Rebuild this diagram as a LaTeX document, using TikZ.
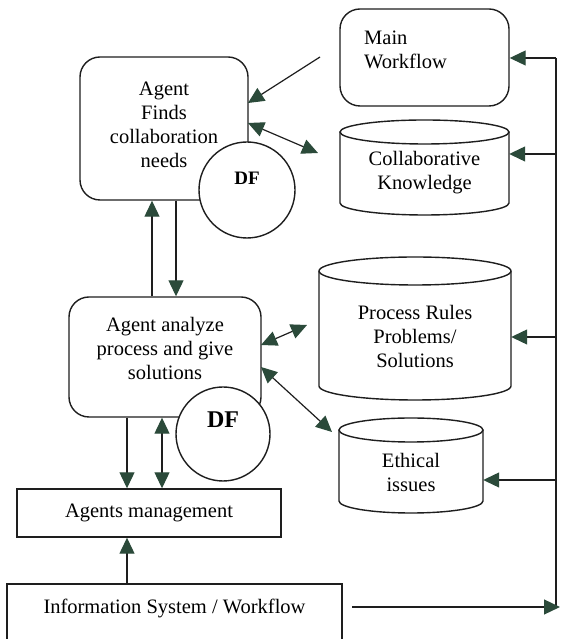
\documentclass[tikz,border=0pt]{standalone}
\usepackage{fontspec}
\setmainfont{Liberation Serif}
\usetikzlibrary{arrows.meta}
\definecolor{arrowgreen}{HTML}{2B4A3A}
\definecolor{linegray}{HTML}{1E1E1E}
\begin{document}
\begin{tikzpicture}[x=1pt,y=1pt,
  box/.style={draw=linegray, line width=1.4pt, rounded corners=20pt, inner sep=0pt},
  sq/.style={draw=linegray, line width=1.4pt, inner sep=0pt},
  df/.style={draw=linegray, circle, line width=1.4pt, fill=white, inner sep=0pt},
  txt/.style={align=center, inner sep=0pt, font=\rmfamily\fontsize{20.5}{24}\selectfont},
  tip/.tip={Triangle[length=16pt,width=15pt,color=arrowgreen]},
  arr/.style={draw=linegray, line width=1.2pt, -tip},
  darr/.style={draw=linegray, line width=1.2pt, tip-tip},
  cylline/.style={draw=linegray, line width=1.4pt}]
\clip (0,0) rectangle (560,639);
\fill[white] (0,0) rectangle (560,639);

% Agent finds collaboration needs
\node[box, minimum width=168, minimum height=143] (b1) at (164,510.5) {};
\node[txt] (b1t) at (164,514.5) {Agent\\Finds\\collaboration\\needs};
\node[df, minimum size=96] (df1) at (247,449) {};
\node[txt, font=\rmfamily\fontsize{19}{22}\selectfont\bfseries] (df1t) at (247,461) {DF};

% Agent analyze
\node[box, minimum width=192, minimum height=120] (b2) at (165,282) {};
\node[txt] (b2t) at (165,291) {Agent analyze\\process and give\\solutions};
\node[df, minimum size=94] (df2) at (223,205) {};
\node[txt, font=\rmfamily\fontsize{24}{28}\selectfont\bfseries] (df2t) at (223,219) {DF};

% Agents management
\node[sq, txt, minimum width=264, minimum height=48] (am) at (149,126) {Agents management};

% Information system
\node[sq, minimum width=335, minimum height=76] (is) at (174.5,17) {};
\node[txt] (ist) at (174.5,31) {Information System / Workflow};

% Main workflow
\node[box, minimum width=169, minimum height=97] (mw) at (424.5,581.5) {};
\node[txt, align=left, anchor=west] (mwt) at (364,589.5) {Main\\Workflow};

% Collaborative Knowledge cylinder
\draw[cylline] (340,507) -- (340,436) arc[start angle=180,end angle=360,x radius=84.5,y radius=12] -- (509,507);
\draw[cylline] (424.5,507) ellipse[x radius=84.5,y radius=12];
\node[txt, minimum width=169] (ck) at (424.5,466) {Collaborative\\Knowledge};

% Process rules cylinder
\draw[cylline] (319,368) -- (319,253) arc[start angle=180,end angle=360,x radius=96,y radius=14] -- (511,368);
\draw[cylline] (415,368) ellipse[x radius=96,y radius=14];
\node[txt, minimum width=192] (pr) at (415,303) {Process Rules\\Problems/\\Solutions};

% Ethical issues cylinder
\draw[cylline] (339,209) -- (339,138) arc[start angle=180,end angle=360,x radius=72,y radius=12] -- (483,209);
\draw[cylline] (411,209) ellipse[x radius=72,y radius=12];
\node[txt, minimum width=144] (eth) at (411,166.5) {Ethical\\issues};

% vertical connectors
\coordinate (v1) at (152,0);
\coordinate (v2) at (176,0);
\coordinate (v3) at (127,0);
\coordinate (v4) at (162,0);
\draw[arr] (b2.north -| v1) -- (b1.south -| v1);
\draw[arr] (b1.south -| v2) -- (b2.north -| v2);
\draw[arr] (b2.south -| v3) -- (am.north -| v3);
\draw[darr] (b2.south -| v4) -- (am.north -| v4);
\draw[arr] (is.north -| v3) -- (am.south -| v3);

% diagonal connectors
\coordinate (mwl) at (320,582);
\coordinate (b1a) at (248,536);
\draw[arr] (mwl) -- (b1a);
\coordinate (b1b) at (248,516);
\coordinate (cka) at (318,486);
\draw[darr] (b1b) -- (cka);
\coordinate (b2a) at (261,294);
\coordinate (pra) at (307,314);
\draw[darr] (b2a) -- (pra);
\coordinate (b2b) at (261,272);
\coordinate (etha) at (332,207);
\draw[darr] (b2b) -- (etha);

% right bus
\coordinate (bt) at (556,581);
\coordinate (bb) at (556,32);
\draw[draw=linegray, line width=1.2pt] (bt) -- (bb);
\draw[arr] (bt) -- (bt -| mw.east);
\coordinate (bck) at (556,485);
\draw[arr] (bck) -- (bck -| ck.east);
\coordinate (bpr) at (556,302);
\draw[arr] (bpr) -- (bpr -| pr.east);
\coordinate (beth) at (556,159);
\draw[arr] (beth) -- (beth -| eth.east);
\coordinate (isa) at (352,32);
\coordinate (ise) at (560,32);
\draw[arr] (isa) -- (ise);
\end{tikzpicture}
\end{document}
